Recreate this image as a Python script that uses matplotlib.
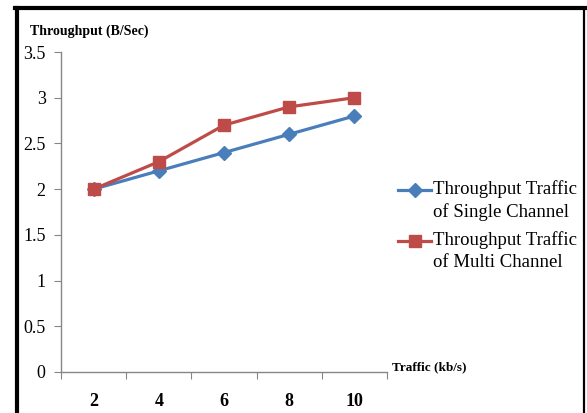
import matplotlib
matplotlib.use('Agg')
import matplotlib.pyplot as plt
from matplotlib.lines import Line2D
from matplotlib.transforms import offset_copy

traffic = ['2', '4', '6', '8', '10']
single = [2.0, 2.2, 2.4, 2.6, 2.8]
multi = [2.0, 2.3, 2.7, 2.9, 3.0]
y_ticks = [0, 0.5, 1, 1.5, 2, 2.5, 3, 3.5]
y_labels = ['0', '0.5', '1', '1.5', '2', '2.5', '3', '3.5']
names = ['Throughput Traffic\nof Single Channel', 'Throughput Traffic\nof Multi Channel']

plt.rcParams['font.family'] = ['Liberation Serif', 'DejaVu Serif']

blue = '#4a7ebb'
red = '#be4b48'
grey = '#868686'
W, H = 587, 413

fig = plt.figure(figsize=(W/100, H/100), dpi=100)
ax = fig.add_axes([61/W, 1 - 372/H, 326/W, 320/H])

x = list(range(1, len(traffic) + 1))
styles = [dict(color=blue, marker='D', ms=7), dict(color=red, marker='s', ms=8)]
ax.plot(x, single, lw=2.3, **styles[0])
ax.plot(x, multi, lw=2.3, **styles[1])

ax.set_xlim(0.5, len(traffic) + 0.5)
ax.set_ylim(0, 3.5)
ax.set_yticks(y_ticks)
ax.set_yticklabels(y_labels, fontsize=13)
ax.tick_params(axis='y', direction='out', length=5, color=grey, pad=6)

# tick marks on the category edges, labels in between
ax.set_xticks([i + 0.5 for i in range(len(traffic) + 1)])
ax.set_xticklabels([])
ax.tick_params(axis='x', direction='out', length=5, color=grey)
trans = offset_copy(ax.get_xaxis_transform(), fig=fig, x=0, y=-30, units='dots')
for xi, lab in zip(x, traffic):
    ax.text(xi, 0, lab, transform=trans, ha='center', va='center', fontsize=13, fontweight='bold')

for side in ['top', 'right']:
    ax.spines[side].set_visible(False)
for side in ['left', 'bottom']:
    ax.spines[side].set_color(grey)
    ax.spines[side].set_linewidth(1)

fig.text(30/W, 1 - 31/H, 'Throughput (B/Sec)', fontsize=10, fontweight='bold', va='center', ha='left')
fig.text(392/W, 1 - 367/H, 'Traffic (kb/s)', fontsize=9.5, fontweight='bold', va='center', ha='left')

# legend: handle level with the first text line
for i, (name, st) in enumerate(zip(names, styles)):
    yl = 1 - (190 + i * 51)/H
    fig.add_artist(Line2D([398/W, 431/W], [yl, yl], transform=fig.transFigure, color=st['color'], lw=2.3))
    fig.add_artist(Line2D([414.5/W], [yl], transform=fig.transFigure, color=st['color'],
                          marker=st['marker'], ms=st['ms']))
    fig.text(433/W, yl, name, fontsize=13.5, va='top', ha='left', linespacing=1.4,
             transform=offset_copy(fig.transFigure, fig=fig, x=0, y=10, units='dots'))

# outer frame
fig.add_artist(Line2D([16.5/W, 16.5/W], [0, 1 - 7.5/H], transform=fig.transFigure, color='black', lw=3))
fig.add_artist(Line2D([15/W, 584.5/W], [1 - 7.5/H, 1 - 7.5/H], transform=fig.transFigure, color='black', lw=3))
fig.add_artist(Line2D([584/W, 584/W], [0, 1 - 7.5/H], transform=fig.transFigure, color='black', lw=1.6))

fig.savefig('out.png', dpi=100)
